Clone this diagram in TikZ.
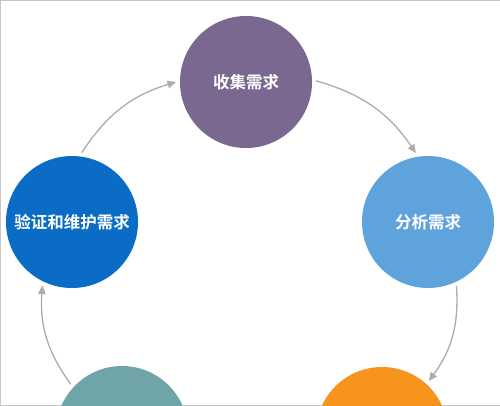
\documentclass[tikz,border=0pt]{standalone}
\usepackage{fontspec}
\newfontfamily\cjk{Noto Sans CJK SC}[BoldFont={* Bold}]
\usetikzlibrary{arrows.meta}

\definecolor{cpurple}{HTML}{7B6891}
\definecolor{cblue}{HTML}{0A6CC4}
\definecolor{clight}{HTML}{5FA3DC}
\definecolor{cteal}{HTML}{6FA5A8}
\definecolor{corange}{HTML}{F7941D}

\begin{document}
\begin{tikzpicture}[
    x=1pt, y=-1pt,
    stage/.style={circle, minimum size=132pt, inner sep=0pt, outer sep=4pt,
                  text=white, font=\cjk\bfseries\fontsize{16.5}{19}\selectfont},
    flow/.style={-{Triangle[length=8.5pt,width=7.5pt]}, draw=gray!65, line width=1.3pt},
  ]
    \clip (0,0) rectangle (500,405);
    \fill[white] (0,0) rectangle (500,405);
    \draw[gray!45, line width=1pt] (0,0) rectangle (500,405);

    \node[stage, fill=cpurple] (collect)  at (246,82)  {收集需求};
    \node[stage, fill=clight]  (analyze)  at (428,222) {分析需求};
    \node[stage, fill=cblue]   (verify)   at (72,222)  {验证和维护需求};
    \node[stage, fill=cteal]   (lowleft)  at (122,432) {};
    \node[stage, fill=corange] (lowright) at (382,433) {};

    \draw[flow, bend left=20] (verify.82) to (collect.180);
    \draw[flow, bend left=20] (collect.1) to (analyze.100);
    \draw[flow, bend left=20] (analyze.-66) to (lowright.48);
    \draw[flow, bend left=20] (lowleft.137) to (verify.-115);
  \end{tikzpicture}
\end{document}
